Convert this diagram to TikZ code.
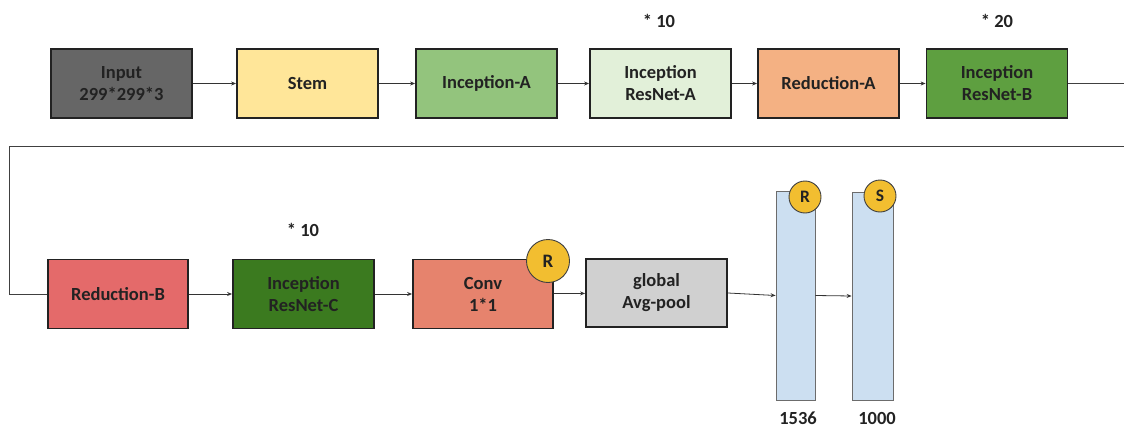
\documentclass[tikz,border=0pt]{standalone}
\usepackage{fontspec}
\setmainfont{Carlito}
\usetikzlibrary{arrows.meta}
\definecolor{cinput}{HTML}{666666}
\definecolor{cstem}{HTML}{FFE699}
\definecolor{cinca}{HTML}{93C47D}
\definecolor{cresa}{HTML}{E2F0D9}
\definecolor{creda}{HTML}{F4B183}
\definecolor{cresb}{HTML}{5E9F40}
\definecolor{credb}{HTML}{E46A6A}
\definecolor{cresc}{HTML}{3B7A1F}
\definecolor{cconv}{HTML}{E6836D}
\definecolor{cpool}{HTML}{D0D0D0}
\definecolor{cbar}{HTML}{CCDFF1}
\definecolor{cgold}{HTML}{F2BE30}
\definecolor{ctext}{HTML}{222222}
\begin{document}
\begin{tikzpicture}[x=1pt,y=-1pt,
  blk/.style={draw=ctext, line width=1.8pt, minimum width=141pt, minimum height=69pt,
    inner sep=0pt, align=center, text=ctext, font=\bfseries\fontsize{18.5}{22}\selectfont},
  barbox/.style={draw=gray!85!black, line width=0.8pt, fill=cbar, minimum width=39pt,
    minimum height=209pt, inner sep=0pt},
  badge/.style={circle, draw=black!75, line width=0.9pt, fill=cgold, inner sep=0pt,
    text=ctext, font=\bfseries\fontsize{17.5}{17.5}\selectfont},
  arr/.style={-{Stealth[length=5pt,width=4pt]}, line width=0.8pt, draw=black!80},
  loopline/.style={line width=1pt, draw=black!75},
  lab/.style={text=ctext, font=\bfseries\fontsize{18.5}{22}\selectfont}]
\useasboundingbox (0,0) rectangle (1124,436);

% top row
\node[blk, fill=cinput] (in) at (121.5,83.5) {Input\\299*299*3};
\node[blk, fill=cstem] (stem) at (307.5,83.5) {Stem};
\node[blk, fill=cinca] (inca) at (486.5,83.5) {Inception-A};
\node[blk, fill=cresa] (resa) at (660.5,83.5) {Inception\\ResNet-A};
\node[blk, fill=creda] (reda) at (828.5,83.5) {Reduction-A};
\node[blk, fill=cresb] (resb) at (997,83.5) {Inception\\ResNet-B};

\node[lab] (m1) at (659,21) {* 10};
\node[lab] (m2) at (997,21) {* 20};

% bottom row
\node[blk, fill=credb, minimum width=140pt] (redb) at (118,294) {Reduction-B};
\node[blk, fill=cresc, minimum width=141pt] (resc) at (303.5,294) {Inception\\ResNet-C};
\node[blk, fill=cconv, minimum width=140pt] (conv) at (483,294) {Conv\\1*1};
\node[blk, fill=cpool, minimum width=141pt, minimum height=68pt] (pool) at (656.5,293) {global\\Avg-pool};
\node[barbox] (bar1) at (795.5,295.5) {};
\node[barbox, minimum width=41pt, minimum height=208pt] (bar2) at (872.5,296) {};

\node[lab] (m3) at (303,230) {* 10};
\node[lab] (n1) at (798,418) {1536};
\node[lab] (n2) at (877,418) {1000};

\node[badge, minimum size=43pt, font=\bfseries\fontsize{19}{19}\selectfont] (r1) at (548,261) {R};
\node[badge, minimum size=32pt] (r2) at (805,197) {R};
\node[badge, minimum size=32pt] (s1) at (880,196) {S};

% connectors
\draw[arr] (in) -- (stem);
\draw[arr] (stem) -- (inca);
\draw[arr] (inca) -- (resa);
\draw[arr] (resa) -- (reda);
\draw[arr] (reda) -- (resb);

\coordinate (e1) at (1130,83.5);
\coordinate (e2) at (1130,146);
\coordinate (w1) at (9,146);
\coordinate (w2) at (9,294);
\draw[loopline] (resb.east) -- (e1) -- (e2) -- (w1) -- (w2) -- (redb.west);

\draw[arr] (redb) -- (resc);
\draw[arr] (resc) -- (conv);
\draw[arr] (conv) -- (pool);
\draw[arr] (pool.east) -- (bar1.west);
\draw[arr] (bar1.east) -- (bar2.west);
\end{tikzpicture}
\end{document}
